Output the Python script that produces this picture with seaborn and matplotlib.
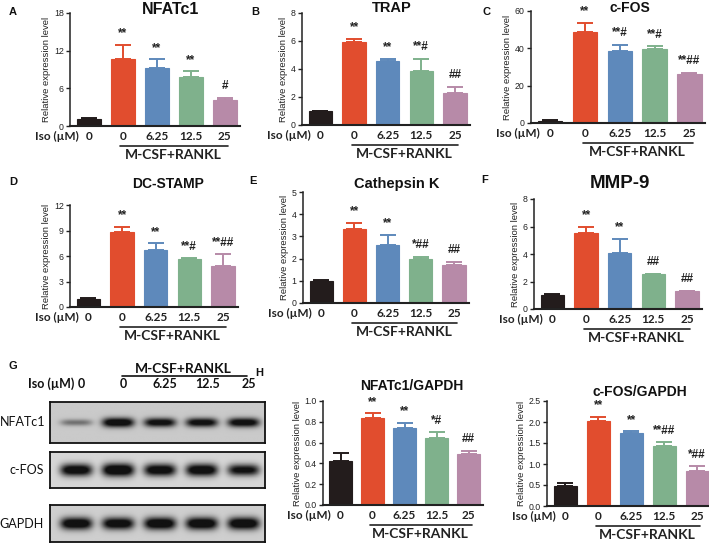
import numpy as np
import pandas as pd
import matplotlib
matplotlib.use("Agg")
import matplotlib.pyplot as plt
import matplotlib.transforms as mtransforms
import seaborn as sns

sns.set_theme(style="ticks")
plt.rcParams['font.family'] = ['Liberation Sans', 'DejaVu Sans']

# groups: untreated control, then M-CSF+RANKL with Iso 0 / 6.25 / 12.5 / 25 uM
groups = ["ctrl", "0", "6.25", "12.5", "25"]
iso_labels = ["0", "0", "6.25", "12.5", "25"]
bar_colors = ["#231c1c", "#e14d2e", "#5e89bb", "#7fb18c", "#b78aa8"]

# qPCR panels (mean, upper error, significance marks)
nfatc1_mean = [1.1, 10.6, 9.2, 7.8, 4.2]
nfatc1_err = [0.15, 2.3, 1.4, 0.9, 0.3]
nfatc1_sig = ["", "**", "**", "**", "#"]

trap_mean = [1.0, 5.95, 4.55, 3.85, 2.3]
trap_err = [0.03, 0.2, 0.15, 0.9, 0.45]
trap_sig = ["", "**", "**", "**#", "##"]

cfos_mean = [1.2, 49.0, 38.5, 39.5, 26.0]
cfos_err = [0.3, 4.5, 3.5, 1.5, 1.0]
cfos_sig = ["", "**", "**#", "**#", "**##"]

dcstamp_mean = [1.0, 8.8, 6.7, 5.6, 4.8]
dcstamp_err = [0.03, 0.6, 0.8, 0.15, 1.4]
dcstamp_sig = ["", "**", "**", "**#", "**##"]

ctsk_mean = [1.0, 3.35, 2.62, 1.97, 1.7]
ctsk_err = [0.03, 0.27, 0.45, 0.1, 0.15]
ctsk_sig = ["", "**", "**", "*##", "##"]

mmp9_mean = [1.02, 5.5, 4.08, 2.52, 1.28]
mmp9_err = [0.08, 0.5, 1.02, 0.06, 0.05]
mmp9_sig = ["", "**", "**", "##", "##"]

# western blot quantification
nfatc1_gapdh_mean = [0.42, 0.84, 0.74, 0.64, 0.49]
nfatc1_gapdh_err = [0.08, 0.04, 0.05, 0.06, 0.03]
nfatc1_gapdh_sig = ["", "**", "**", "*#", "##"]

cfos_gapdh_mean = [0.48, 2.02, 1.74, 1.42, 0.84]
cfos_gapdh_err = [0.07, 0.1, 0.04, 0.1, 0.11]
cfos_gapdh_sig = ["", "**", "**", "**##", "*##"]

# band strength per lane (0..1) for the blot image
blot_rows = ["NFATc1", "c-FOS", "GAPDH"]
band_nfatc1 = [0.35, 0.95, 0.85, 0.85, 0.88]
band_cfos = [0.9, 1.0, 0.9, 0.92, 0.8]
band_gapdh = [0.95, 0.92, 0.97, 0.97, 0.97]

W, H = 709, 550
fig = plt.figure(figsize=(W / 100, H / 100), dpi=100)
fig.patch.set_facecolor("white")

def px_axes(l, t, r, b):
    return fig.add_axes([l / W, 1 - b / H, (r - l) / W, (b - t) / H])

lato = ['Lato', 'DejaVu Sans']

def bar_panel(ax, mean, err, sig, ymax, step, sig_size=8.5):
    df = pd.DataFrame({"group": groups, "value": mean})
    sns.barplot(data=df, x="group", y="value", hue="group", order=groups,
                hue_order=groups, palette=bar_colors, saturation=1,
                width=0.7, legend=False, ax=ax)
    for p, c in zip(ax.patches, bar_colors):
        p.set_edgecolor(c)
        p.set_linewidth(0.8)
    for i in range(len(groups)):
        ax.errorbar(i, mean[i], yerr=[[0], [err[i]]], color=bar_colors[i],
                    capsize=5.5, elinewidth=1.4, capthick=1.4)
        if sig[i]:
            ax.annotate(sig[i], (i, mean[i] + err[i]), xytext=(0, 4),
                        textcoords="offset points", ha="center", va="bottom",
                        fontsize=sig_size, fontweight="bold", color="#222222")
    ax.set_xlim(-0.55, 4.45)
    ax.set_ylim(0, ymax)
    ax.set_yticks(np.arange(0, ymax + step / 2, step))
    ax.set_xticks(range(len(groups)))
    ax.set_xticklabels(iso_labels, fontfamily=lato, fontsize=8.5,
                       fontweight="bold")
    ax.set_xlabel("")
    ax.set_ylabel("Relative expression level", fontsize=6.8, labelpad=2,
                  color="#222222")
    sns.despine(ax=ax)
    ax.spines["left"].set_linewidth(1.1)
    ax.spines["bottom"].set_linewidth(1.5)
    ax.spines["left"].set_color("#222222")
    ax.spines["bottom"].set_color("#222222")
    ax.tick_params(axis="y", length=3, width=1, labelsize=6.3, pad=1.5,
                   colors="#222222")
    ax.tick_params(axis="x", length=0, pad=3.5, colors="#222222")
    ax.set_facecolor("white")
    # Iso (uM) label in the tick row
    ax.annotate("Iso (\u00b5M)", (-0.3, 0), xycoords=("data", "axes fraction"),
                xytext=(0, -3.5), textcoords="offset points",
                ha="right", va="top", fontsize=8.5, fontfamily=lato,
                fontweight="bold", color="#222222")
    # M-CSF+RANKL bracket
    line_tr = mtransforms.offset_copy(ax.get_xaxis_transform(), fig=fig,
                                      y=-20, units="dots")
    ax.plot([0.93, 4.1], [0, 0], transform=line_tr, color="#222222",
            lw=1.2, clip_on=False)
    text_tr = mtransforms.offset_copy(ax.get_xaxis_transform(), fig=fig,
                                      y=-29, units="dots")
    ax.text(2.5, 0, "M-CSF+RANKL", transform=text_tr, ha="center",
            va="center", fontsize=10, fontfamily=lato, fontweight="bold",
            color="#222222")


panels = [
    ("A", "NFATc1", nfatc1_mean, nfatc1_err, nfatc1_sig, 18, 6),
    ("B", "TRAP", trap_mean, trap_err, trap_sig, 8, 2),
    ("C", "c-FOS", cfos_mean, cfos_err, cfos_sig, 60, 20),
    ("D", "DC-STAMP", dcstamp_mean, dcstamp_err, dcstamp_sig, 12, 3),
    ("E", "Cathepsin K", ctsk_mean, ctsk_err, ctsk_sig, 5, 1),
    ("F", "MMP-9", mmp9_mean, mmp9_err, mmp9_sig, 8, 2),
    ("", "NFATc1/GAPDH", nfatc1_gapdh_mean, nfatc1_gapdh_err, nfatc1_gapdh_sig, 1.0, 0.2),
    ("", "c-FOS/GAPDH", cfos_gapdh_mean, cfos_gapdh_err, cfos_gapdh_sig, 2.5, 0.5),
]

# layout in pixels: axes rect, title centre, title size, letter position
rects = [(70, 13, 240, 126), (302, 13, 470, 125), (531, 11, 705, 123),
         (70, 205, 238, 307), (303, 192, 469, 303), (534, 199, 702, 309),
         (323, 401, 483, 505), (547, 401, 712, 506)]
title_pos = [(171, 9), (392, 8), (630, 8), (168, 184), (397, 184), (620, 184),
             (412, 386), (640, 392)]
title_size = [11.5, 10.5, 10, 10, 10.5, 13.5, 10, 10]
letter_pos = [(13, 12), (255, 12), (486, 12), (13, 182), (253, 181), (485, 180)]

for k, (letter, title, mean, err, sig, ymax, step) in enumerate(panels):
    ax = px_axes(*rects[k])
    bar_panel(ax, mean, err, sig, ymax, step)
    tx, ty = title_pos[k]
    fig.text(tx / W, 1 - ty / H, title, ha="center", va="center",
             fontsize=title_size[k], fontweight="bold", color="#111111")
    if letter:
        lx, ly = letter_pos[k]
        fig.text(lx / W, 1 - ly / H, letter, ha="center", va="center",
                 fontsize=8, fontweight="bold", color="#111111")

fig.text(13 / W, 1 - 366 / H, "G", ha="center", va="center", fontsize=8,
         fontweight="bold", color="#111111")
fig.text(259 / W, 1 - 373 / H, "H", ha="center", va="center", fontsize=8,
         fontweight="bold", color="#111111")

# western blot
blot_rects = [(50, 402, 265, 443), (50, 452, 265, 488), (50, 505, 265, 542)]
blot_bands = [band_nfatc1, band_cfos, band_gapdh]
blot_bg = [0.79, 0.84, 0.81]
blot_thick = [0.12, 0.18, 0.17]
blot_label_x = [23, 27, 21]
lanes = np.arange(len(iso_labels))
xl = (-0.62, 4.5)
xs = np.linspace(xl[0], xl[1], 220)
ys = np.linspace(0, 1, 60)
XX, YY = np.meshgrid(xs, ys)
for k in range(3):
    ax = px_axes(*blot_rects[k])
    dens = np.zeros_like(XX)
    for i, s in zip(lanes, blot_bands[k]):
        h = blot_thick[k] * (0.5 + 0.5 * s)
        dens += s * np.exp(-np.abs((XX - i) / 0.38) ** 4) * np.exp(-((YY - 0.5) / h) ** 2)
    dens = np.clip(dens * 1.4, 0, 1)
    img = blot_bg[k] - (blot_bg[k] - 0.07) * dens
    ax.imshow(img, cmap="gray", vmin=0, vmax=1, aspect="auto",
              extent=[xl[0], xl[1], 0, 1], origin="lower",
              interpolation="bilinear")
    ax.set_xlim(*xl)
    ax.set_ylim(0, 1)
    ax.set_xticks([])
    ax.set_yticks([])
    for sp in ax.spines.values():
        sp.set_visible(True)
        sp.set_color("#111111")
        sp.set_linewidth(1.3)
    cy = (blot_rects[k][1] + blot_rects[k][3]) / 2
    fig.text(blot_label_x[k] / W, 1 - cy / H, blot_rows[k], ha="center",
             va="center", fontsize=9, fontfamily=lato, color="#111111")
    if k == 0:
        top_ax = ax

# blot header: lane labels, Iso label, M-CSF+RANKL bracket
hdr_tr = mtransforms.offset_copy(top_ax.get_xaxis_transform(), fig=fig,
                                 y=18, units="dots")
for i, lab in zip(lanes, iso_labels):
    top_ax.text(i + 0.12, 1, lab, transform=hdr_tr, ha="center", va="center",
                fontsize=9, fontweight="bold", fontfamily=lato, color="#111111")
top_ax.text(-0.05, 1, "Iso (\u00b5M)", transform=hdr_tr, ha="right",
            va="center", fontsize=9, fontweight="bold", fontfamily=lato,
            color="#111111")
br_tr = mtransforms.offset_copy(top_ax.get_xaxis_transform(), fig=fig,
                                y=26, units="dots")
top_ax.plot([1.1, 4.07], [1, 1], transform=br_tr, color="#111111", lw=1.2,
            clip_on=False)
brt_tr = mtransforms.offset_copy(top_ax.get_xaxis_transform(), fig=fig,
                                 y=33, units="dots")
top_ax.text(2.55, 1, "M-CSF+RANKL", transform=brt_tr, ha="center",
            va="center", fontsize=10, fontweight="bold", fontfamily=lato,
            color="#111111")

fig.savefig("out.png", dpi=100, facecolor="white")
